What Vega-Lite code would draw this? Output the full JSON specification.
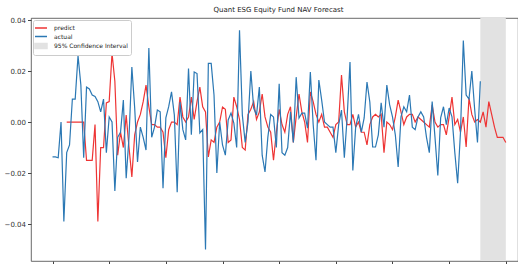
{
  "$schema": "https://vega.github.io/schema/vega-lite/v6.json",
  "width": 487,
  "height": 243,
  "autosize": {"type": "none"},
  "padding": {"left": 31, "top": 18, "right": 0, "bottom": 3},
  "background": "white",
  "title": {"text": "Quant ESG Equity Fund NAV Forecast", "font": "DejaVu Sans", "fontSize": 7, "fontWeight": "normal", "color": "#222", "offset": 3, "dx": 4},
  "config": {
    "font": "DejaVu Sans",
    "view": {"stroke": "#444", "strokeWidth": 0.8}
  },
  "datasets": {
    "band": [{"start": 151, "end": 160}],
    "nav": [
      {"t": 0, "actual": -0.0137, "predict": null},
      {"t": 1, "actual": -0.0137, "predict": null},
      {"t": 2, "actual": -0.014, "predict": null},
      {"t": 3, "actual": 0.0, "predict": null},
      {"t": 4, "actual": -0.039, "predict": null},
      {"t": 5, "actual": -0.012, "predict": 0.0},
      {"t": 6, "actual": -0.009, "predict": 0.0},
      {"t": 7, "actual": 0.009, "predict": 0.0},
      {"t": 8, "actual": 0.009, "predict": 0.0},
      {"t": 9, "actual": 0.026, "predict": 0.0},
      {"t": 10, "actual": 0.0145, "predict": 0.0},
      {"t": 11, "actual": -0.014, "predict": 0.0},
      {"t": 12, "actual": 0.0137, "predict": -0.015},
      {"t": 13, "actual": 0.013, "predict": -0.015},
      {"t": 14, "actual": 0.0106, "predict": -0.015},
      {"t": 15, "actual": 0.010, "predict": -0.001},
      {"t": 16, "actual": 0.008, "predict": -0.039},
      {"t": 17, "actual": 0.004, "predict": -0.010},
      {"t": 18, "actual": 0.009, "predict": -0.010},
      {"t": 19, "actual": -0.012, "predict": 0.0075},
      {"t": 20, "actual": 0.002, "predict": 0.008},
      {"t": 21, "actual": 0.0, "predict": 0.027},
      {"t": 22, "actual": -0.027, "predict": 0.016},
      {"t": 23, "actual": -0.006, "predict": -0.013},
      {"t": 24, "actual": -0.004, "predict": -0.004},
      {"t": 25, "actual": 0.0086, "predict": -0.010},
      {"t": 26, "actual": -0.022, "predict": 0.0027},
      {"t": 27, "actual": -0.006, "predict": -0.010},
      {"t": 28, "actual": 0.0216, "predict": -0.0215},
      {"t": 29, "actual": 0.0055, "predict": -0.005},
      {"t": 30, "actual": -0.0157, "predict": 0.0},
      {"t": 31, "actual": -0.002, "predict": 0.003},
      {"t": 32, "actual": -0.006, "predict": 0.008},
      {"t": 33, "actual": -0.011, "predict": 0.0145},
      {"t": 34, "actual": 0.029, "predict": 0.006},
      {"t": 35, "actual": -0.006, "predict": -0.001},
      {"t": 36, "actual": -0.002, "predict": -0.001},
      {"t": 37, "actual": 0.0047, "predict": -0.002},
      {"t": 38, "actual": 0.004, "predict": -0.002},
      {"t": 39, "actual": -0.026, "predict": -0.004},
      {"t": 40, "actual": 0.0016, "predict": -0.014},
      {"t": 41, "actual": 0.006, "predict": -0.003},
      {"t": 42, "actual": 0.0118, "predict": 0.0},
      {"t": 43, "actual": 0.0027, "predict": 0.0},
      {"t": 44, "actual": -0.0275, "predict": -0.001},
      {"t": 45, "actual": 0.0078, "predict": 0.0098},
      {"t": 46, "actual": -0.003, "predict": 0.002},
      {"t": 47, "actual": -0.007, "predict": 0.0},
      {"t": 48, "actual": 0.021, "predict": 0.002},
      {"t": 49, "actual": -0.005, "predict": 0.0098},
      {"t": 50, "actual": 0.0196, "predict": 0.001},
      {"t": 51, "actual": 0.019, "predict": 0.008},
      {"t": 52, "actual": -0.0043, "predict": 0.0137},
      {"t": 53, "actual": -0.003, "predict": 0.006},
      {"t": 54, "actual": -0.050, "predict": 0.004},
      {"t": 55, "actual": 0.023, "predict": -0.0137},
      {"t": 56, "actual": 0.023, "predict": -0.007},
      {"t": 57, "actual": 0.0106, "predict": -0.008},
      {"t": 58, "actual": -0.020, "predict": -0.002},
      {"t": 59, "actual": 0.0, "predict": 0.0},
      {"t": 60, "actual": -0.009, "predict": 0.0059},
      {"t": 61, "actual": -0.013, "predict": 0.005},
      {"t": 62, "actual": 0.0008, "predict": -0.008},
      {"t": 63, "actual": 0.0035, "predict": -0.007},
      {"t": 64, "actual": -0.0004, "predict": 0.0098},
      {"t": 65, "actual": -0.010, "predict": 0.006},
      {"t": 66, "actual": 0.036, "predict": 0.001},
      {"t": 67, "actual": 0.0027, "predict": -0.010},
      {"t": 68, "actual": -0.008, "predict": -0.011},
      {"t": 69, "actual": 0.0, "predict": 0.003},
      {"t": 70, "actual": 0.020, "predict": 0.005},
      {"t": 71, "actual": 0.0055, "predict": 0.008},
      {"t": 72, "actual": 0.0027, "predict": 0.001},
      {"t": 73, "actual": 0.0137, "predict": 0.004},
      {"t": 74, "actual": -0.013, "predict": 0.011},
      {"t": 75, "actual": -0.0196, "predict": 0.002},
      {"t": 76, "actual": -0.006, "predict": -0.002},
      {"t": 77, "actual": 0.003, "predict": -0.004},
      {"t": 78, "actual": 0.002, "predict": -0.015},
      {"t": 79, "actual": -0.010, "predict": -0.004},
      {"t": 80, "actual": 0.015, "predict": 0.005},
      {"t": 81, "actual": -0.012, "predict": -0.001},
      {"t": 82, "actual": -0.013, "predict": -0.004},
      {"t": 83, "actual": -0.010, "predict": 0.003},
      {"t": 84, "actual": 0.004, "predict": 0.006},
      {"t": 85, "actual": -0.008, "predict": -0.008},
      {"t": 86, "actual": 0.0176, "predict": 0.002},
      {"t": 87, "actual": 0.0016, "predict": 0.011},
      {"t": 88, "actual": 0.0035, "predict": 0.004},
      {"t": 89, "actual": 0.0035, "predict": 0.0},
      {"t": 90, "actual": -0.0024, "predict": -0.008},
      {"t": 91, "actual": 0.0196, "predict": 0.0118},
      {"t": 92, "actual": -0.001, "predict": 0.008},
      {"t": 93, "actual": -0.015, "predict": 0.003},
      {"t": 94, "actual": 0.0165, "predict": 0.0},
      {"t": 95, "actual": 0.0086, "predict": 0.003},
      {"t": 96, "actual": 0.0, "predict": -0.002},
      {"t": 97, "actual": -0.001, "predict": -0.002},
      {"t": 98, "actual": -0.002, "predict": -0.004},
      {"t": 99, "actual": -0.002, "predict": -0.006},
      {"t": 100, "actual": -0.012, "predict": -0.001},
      {"t": 101, "actual": -0.001, "predict": 0.0},
      {"t": 102, "actual": 0.0047, "predict": 0.0184},
      {"t": 103, "actual": -0.014, "predict": 0.004},
      {"t": 104, "actual": 0.002, "predict": -0.001},
      {"t": 105, "actual": 0.0235, "predict": -0.001},
      {"t": 106, "actual": -0.019, "predict": 0.003},
      {"t": 107, "actual": -0.002, "predict": -0.002},
      {"t": 108, "actual": 0.003, "predict": 0.0},
      {"t": 109, "actual": -0.004, "predict": -0.004},
      {"t": 110, "actual": 0.0016, "predict": -0.004},
      {"t": 111, "actual": 0.0157, "predict": -0.009},
      {"t": 112, "actual": 0.0078, "predict": -0.001},
      {"t": 113, "actual": -0.0098, "predict": 0.002},
      {"t": 114, "actual": -0.0098, "predict": 0.003},
      {"t": 115, "actual": -0.005, "predict": 0.002},
      {"t": 116, "actual": 0.0075, "predict": 0.003},
      {"t": 117, "actual": -0.002, "predict": -0.012},
      {"t": 118, "actual": 0.0145, "predict": 0.0},
      {"t": 119, "actual": 0.0067, "predict": -0.001},
      {"t": 120, "actual": 0.002, "predict": -0.003},
      {"t": 121, "actual": -0.005, "predict": 0.002},
      {"t": 122, "actual": -0.0176, "predict": 0.0086},
      {"t": 123, "actual": 0.002, "predict": 0.004},
      {"t": 124, "actual": 0.006, "predict": -0.001},
      {"t": 125, "actual": 0.004, "predict": 0.002},
      {"t": 126, "actual": 0.0106, "predict": 0.003},
      {"t": 127, "actual": -0.002, "predict": 0.003},
      {"t": 128, "actual": -0.003, "predict": 0.0},
      {"t": 129, "actual": 0.002, "predict": 0.002},
      {"t": 130, "actual": 0.004, "predict": 0.001},
      {"t": 131, "actual": 0.002, "predict": 0.0},
      {"t": 132, "actual": -0.006, "predict": -0.001},
      {"t": 133, "actual": -0.012, "predict": -0.002},
      {"t": 134, "actual": 0.008, "predict": 0.0067},
      {"t": 135, "actual": -0.006, "predict": 0.0},
      {"t": 136, "actual": -0.021, "predict": -0.002},
      {"t": 137, "actual": 0.0016, "predict": -0.001},
      {"t": 138, "actual": 0.006, "predict": -0.001},
      {"t": 139, "actual": -0.001, "predict": -0.005},
      {"t": 140, "actual": 0.0055, "predict": 0.002},
      {"t": 141, "actual": 0.002, "predict": 0.0098},
      {"t": 142, "actual": -0.012, "predict": -0.001},
      {"t": 143, "actual": -0.024, "predict": 0.001},
      {"t": 144, "actual": -0.004, "predict": -0.004},
      {"t": 145, "actual": 0.032, "predict": 0.002},
      {"t": 146, "actual": 0.0106, "predict": -0.0098},
      {"t": 147, "actual": 0.009, "predict": 0.0094},
      {"t": 148, "actual": 0.020, "predict": 0.003},
      {"t": 149, "actual": 0.005, "predict": 0.0},
      {"t": 150, "actual": -0.008, "predict": 0.001},
      {"t": 151, "actual": 0.016, "predict": 0.0},
      {"t": 152, "actual": null, "predict": 0.004},
      {"t": 153, "actual": null, "predict": -0.002},
      {"t": 154, "actual": null, "predict": 0.008},
      {"t": 155, "actual": null, "predict": 0.003},
      {"t": 156, "actual": null, "predict": -0.002},
      {"t": 157, "actual": null, "predict": -0.006},
      {"t": 158, "actual": null, "predict": -0.006},
      {"t": 159, "actual": null, "predict": -0.006},
      {"t": 160, "actual": null, "predict": -0.008}
    ]
  },
  "encoding": {
    "x": {
      "type": "quantitative",
      "scale": {"domain": [-7.6, 164.3], "nice": false, "zero": false},
      "axis": {"title": null, "values": [0, 20, 40, 60, 80, 100, 120, 140, 160], "labels": false, "domain": false, "grid": false, "ticks": true, "tickSize": 3.5, "tickColor": "#444"}
    }
  },
  "layer": [
    {
      "data": {"name": "band"},
      "mark": {"type": "rect", "opacity": 1, "clip": true},
      "encoding": {
        "x": {"field": "start", "type": "quantitative"},
        "x2": {"field": "end"},
        "color": {
          "datum": "95% Confidence Interval",
          "scale": {"domain": ["predict", "actual", "95% Confidence Interval"], "range": ["#ee3434", "#2b78b4", "#e2e2e2"]},
          "legend": {
            "title": null,
            "orient": "top-left",
            "offset": 2,
            "padding": 3,
            "strokeColor": "#cccccc",
            "fillColor": "white",
            "cornerRadius": 2,
            "labelFont": "DejaVu Sans",
            "labelFontSize": 6,
            "labelColor": "#222",
            "labelOffset": 8,
            "labelLimit": 200,
            "symbolSize": 64,
            "rowPadding": 0.5,
            "symbolType": {"expr": "datum.value === '95% Confidence Interval' ? 'M-1.5,-0.6H1.5V0.6H-1.5Z' : 'M-1.5,0H1.5'"},
            "symbolStrokeColor": {"expr": "datum.value === 'predict' ? '#ee3434' : (datum.value === 'actual' ? '#2b78b4' : '#e2e2e2')"},
            "symbolStrokeWidth": 1.5
          }
        }
      }
    },
    {
      "data": {"name": "nav"},
      "mark": {"type": "line", "strokeWidth": 1.2, "clip": true},
      "encoding": {
        "x": {"field": "t", "type": "quantitative"},
        "y": {
          "field": "predict",
          "type": "quantitative",
          "scale": {"domain": [-0.0545, 0.0408], "nice": false, "zero": false},
          "axis": {"title": null, "values": [-0.04, -0.02, 0, 0.02, 0.04], "format": ".2f", "domain": false, "grid": false, "tickSize": 3.5, "tickColor": "#444", "labelFontSize": 7, "labelColor": "#333", "labelPadding": 2}
        },
        "color": {"datum": "predict"}
      }
    },
    {
      "data": {"name": "nav"},
      "mark": {"type": "line", "strokeWidth": 1.2, "clip": true},
      "encoding": {
        "x": {"field": "t", "type": "quantitative"},
        "y": {"field": "actual", "type": "quantitative"},
        "color": {"datum": "actual"}
      }
    }
  ]
}
